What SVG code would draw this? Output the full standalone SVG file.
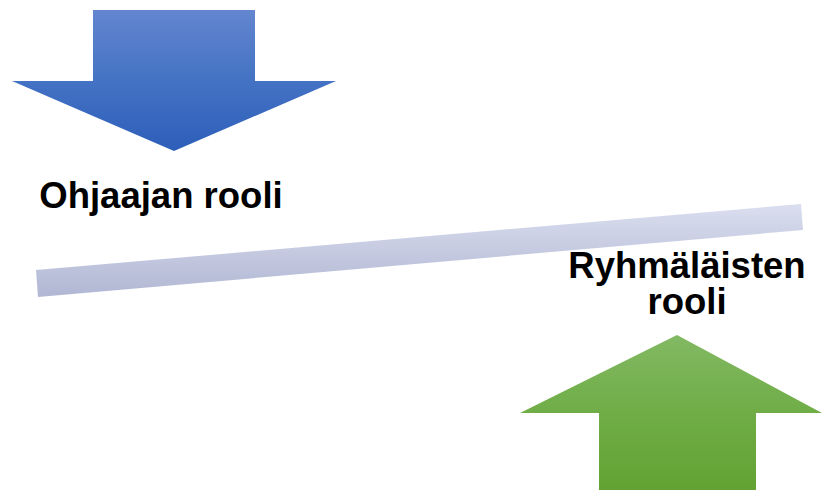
<svg xmlns="http://www.w3.org/2000/svg" width="822" height="490" viewBox="0 0 822 490">
  <defs>
    <linearGradient id="gBlue" gradientUnits="userSpaceOnUse" x1="0" y1="10" x2="0" y2="151">
      <stop offset="0" stop-color="#6386cf"/>
      <stop offset="0.5" stop-color="#4472c4"/>
      <stop offset="1" stop-color="#2d5eb9"/>
    </linearGradient>
    <linearGradient id="gGreen" gradientUnits="userSpaceOnUse" x1="0" y1="335" x2="0" y2="490">
      <stop offset="0" stop-color="#82b963"/>
      <stop offset="0.5" stop-color="#70ad47"/>
      <stop offset="1" stop-color="#62a233"/>
    </linearGradient>
    <linearGradient id="gBar" gradientUnits="userSpaceOnUse" x1="0" y1="204" x2="0" y2="297">
      <stop offset="0" stop-color="#dadeef"/>
      <stop offset="1" stop-color="#b1b7d3"/>
    </linearGradient>
    <style>
      .label { font-family: "Liberation Sans", Arial, sans-serif; font-weight: bold; font-size: 36.5px; fill: #000; }
    </style>
  </defs>

  <!-- balance beam -->
  <g id="beam">
    <polygon points="36,270 801,204 803,230 38,297" fill="url(#gBar)"/>
  </g>

  <!-- downward arrow: facilitator's role -->
  <g id="arrow-down">
    <polygon points="93,10 255,10 255,81 336,81 174,151 12,81 93,81" fill="url(#gBlue)"/>
  </g>

  <!-- upward arrow: group members' role -->
  <g id="arrow-up">
    <polygon points="677,335 822,413 756,413 756,490 599,490 599,413 520,413" fill="url(#gGreen)"/>
  </g>

  <g id="label-ohjaaja">
    <text class="label" x="161" y="208" text-anchor="middle">Ohjaajan rooli</text>
  </g>

  <g id="label-ryhmalaiset">
    <text class="label" x="687" y="278" text-anchor="middle">Ryhmäläisten</text>
    <text class="label" x="687" y="314" text-anchor="middle">rooli</text>
  </g>
</svg>
